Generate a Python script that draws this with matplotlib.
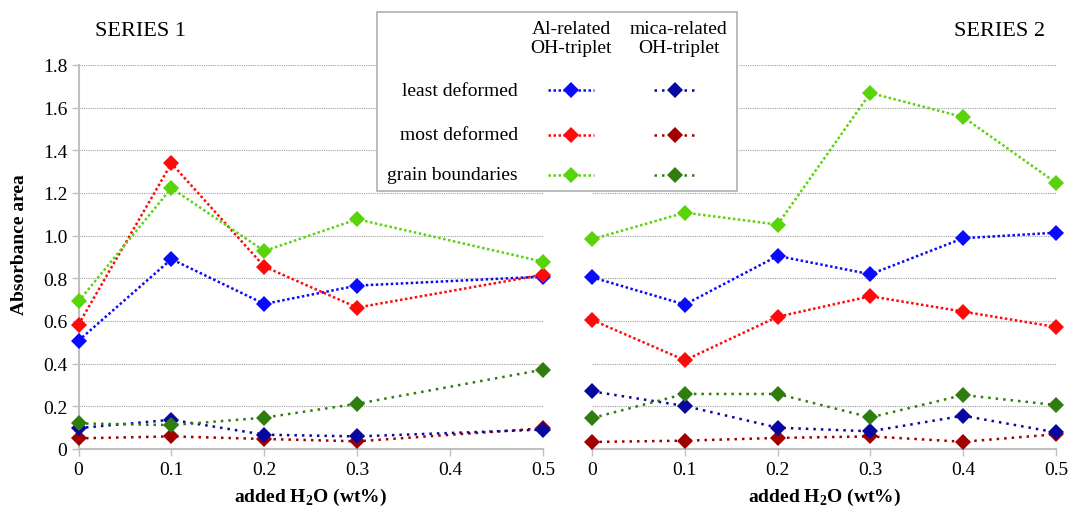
import matplotlib
matplotlib.use("Agg")
import matplotlib.pyplot as plt
from matplotlib.patches import Rectangle

# ---- data -------------------------------------------------------------
x_s1 = [0, 0.1, 0.2, 0.3, 0.5]
x_s2 = [0, 0.1, 0.2, 0.3, 0.4, 0.5]

# Series 1 (Al-related OH-triplet)
s1_al_least = [0.508, 0.890, 0.680, 0.766, 0.808]
s1_al_most = [0.583, 1.339, 0.855, 0.663, 0.817]
s1_al_grain = [0.692, 1.223, 0.928, 1.077, 0.878]
# Series 1 (mica-related OH-triplet)
s1_mica_least = [0.098, 0.137, 0.067, 0.059, 0.091]
s1_mica_most = [0.050, 0.059, 0.047, 0.036, 0.097]
s1_mica_grain = [0.120, 0.112, 0.147, 0.212, 0.372]

# Series 2 (Al-related OH-triplet)
s2_al_least = [0.805, 0.677, 0.905, 0.819, 0.988, 1.014]
s2_al_most = [0.605, 0.416, 0.620, 0.716, 0.644, 0.572]
s2_al_grain = [0.983, 1.108, 1.052, 1.669, 1.556, 1.248]
# Series 2 (mica-related OH-triplet)
s2_mica_least = [0.270, 0.202, 0.100, 0.083, 0.156, 0.078]
s2_mica_most = [0.033, 0.039, 0.052, 0.059, 0.034, 0.069]
s2_mica_grain = [0.145, 0.258, 0.258, 0.148, 0.253, 0.206]

x_ticks = [0, 0.1, 0.2, 0.3, 0.4, 0.5]
x_tick_labels = ["0", "0.1", "0.2", "0.3", "0.4", "0.5"]
y_ticks = [0, 0.2, 0.4, 0.6, 0.8, 1.0, 1.2, 1.4, 1.6, 1.8]
y_tick_labels = ["0", "0.2", "0.4", "0.6", "0.8", "1.0", "1.2", "1.4", "1.6", "1.8"]

row_labels = ["least deformed", "most deformed", "grain boundaries"]
col_labels = ["Al-related\nOH-triplet", "mica-related\nOH-triplet"]

# ---- styles -----------------------------------------------------------
C_BLUE, C_RED, C_LGREEN = "#0a0aff", "#ff0a0a", "#5ad40a"
C_DBLUE, C_DRED, C_DGREEN = "#0808a0", "#a00000", "#2f7d0e"
AL_LS = (0, (1, 1))
MICA_LS = (0, (1, 2))
LW = 1.8
MS = 8
GRID_C = "#a0a0a0"
AXIS_C = "#c0c0c0"

plt.rcParams["font.family"] = ["Liberation Serif", "DejaVu Serif"]
plt.rcParams["mathtext.fontset"] = "custom"
plt.rcParams["mathtext.rm"] = "Liberation Serif"
plt.rcParams["mathtext.bf"] = "Liberation Serif:bold"

W, H = 1071, 510
fig = plt.figure(figsize=(W / 100, H / 100), dpi=100)


def px_axes(x0, x1, y_top, y_bot):
    return fig.add_axes([x0 / W, 1 - y_bot / H, (x1 - x0) / W, (y_bot - y_top) / H])


AX_TOP, AX_BOT = 66, 450
ax1 = px_axes(78.5, 543, AX_TOP, AX_BOT)
ax2 = px_axes(592, 1056, AX_TOP, AX_BOT)


def style_axes(ax, show_y):
    ax.set_xlim(0, 0.5)
    ax.set_ylim(0, 1.8)
    ax.set_xticks(x_ticks)
    ax.set_xticklabels(x_tick_labels, fontsize=14)
    ax.set_yticks(y_ticks)
    for s in ["top", "right"]:
        ax.spines[s].set_visible(False)
    ax.spines["bottom"].set_color(AXIS_C)
    ax.spines["bottom"].set_linewidth(1.5)
    if show_y:
        ax.spines["left"].set_color(AXIS_C)
        ax.spines["left"].set_linewidth(1.5)
        ax.set_yticklabels(y_tick_labels, fontsize=14)
        ax.tick_params(axis="y", length=5, width=1, color=AXIS_C, pad=3)
    else:
        ax.spines["left"].set_visible(False)
        ax.tick_params(axis="y", length=0, labelleft=False)
    ax.tick_params(axis="x", length=5, width=1, color=AXIS_C, pad=4)
    for y in y_ticks[1:]:
        ax.axhline(y, color=GRID_C, lw=0.8, ls=(0, (1, 1)), zorder=0)
    ax.set_xlabel(r"added H$_\mathbf{2}$O (wt%)", fontsize=14,
                  fontweight="bold", va="center")
    ax.xaxis.set_label_coords(0.5, (AX_BOT - 497) / (AX_BOT - AX_TOP))


def draw(ax, x, ys):
    for y, c, ls in ys:
        ax.plot(x, y, color=c, ls=ls, lw=LW, marker="D", ms=MS,
                mec=c, mew=0, clip_on=False, zorder=3)


style_axes(ax1, True)
style_axes(ax2, False)
ax1.set_ylabel("Absorbance area", fontsize=14, fontweight="bold", va="center")
ax1.yaxis.set_label_coords(-58.5 / (543 - 78.5), (AX_BOT - 245) / (AX_BOT - AX_TOP))

draw(ax1, x_s1, [
    (s1_mica_most, C_DRED, MICA_LS),
    (s1_mica_least, C_DBLUE, MICA_LS),
    (s1_mica_grain, C_DGREEN, MICA_LS),
    (s1_al_least, C_BLUE, AL_LS),
    (s1_al_most, C_RED, AL_LS),
    (s1_al_grain, C_LGREEN, AL_LS),
])
draw(ax2, x_s2, [
    (s2_mica_most, C_DRED, MICA_LS),
    (s2_mica_least, C_DBLUE, MICA_LS),
    (s2_mica_grain, C_DGREEN, MICA_LS),
    (s2_al_least, C_BLUE, AL_LS),
    (s2_al_most, C_RED, AL_LS),
    (s2_al_grain, C_LGREEN, AL_LS),
])

fig.text(95 / W, 1 - 32 / H, "SERIES 1", fontsize=16, va="center", ha="left")
fig.text(1045 / W, 1 - 32 / H, "SERIES 2", fontsize=16, va="center", ha="right")

# ---- legend table drawn in pixel coordinates ---------------------------
lg = fig.add_axes([0, 0, 1, 1], zorder=10)
lg.set_xlim(0, W)
lg.set_ylim(H, 0)
lg.axis("off")
lg.add_patch(Rectangle((377, 13), 360, 179, facecolor="white",
                       edgecolor="#b0b0b0", lw=1.2))
col_x = [571, 679]
row_y = [91, 136, 176]
for cx, lab in zip(col_x, col_labels):
    lg.text(cx, 39, lab, fontsize=14, ha="center", va="center", linespacing=1.2)
for ry, lab in zip(row_y, row_labels):
    lg.text(518, ry, lab, fontsize=14, ha="right", va="center")

legend_rows = [
    (C_BLUE, C_DBLUE),
    (C_RED, C_DRED),
    (C_LGREEN, C_DGREEN),
]
for ry, (c_al, c_mica) in zip(row_y, legend_rows):
    lg.plot([548, 594], [ry, ry], color=c_al, ls=AL_LS, lw=LW)
    lg.plot([571], [ry], color=c_al, marker="D", ms=MS, mew=0, ls="none")
    lg.plot([654, 696], [ry, ry], color=c_mica, ls=MICA_LS, lw=LW)
    lg.plot([675], [ry], color=c_mica, marker="D", ms=MS, mew=0, ls="none")

fig.savefig("out.png", dpi=100, facecolor="white")
